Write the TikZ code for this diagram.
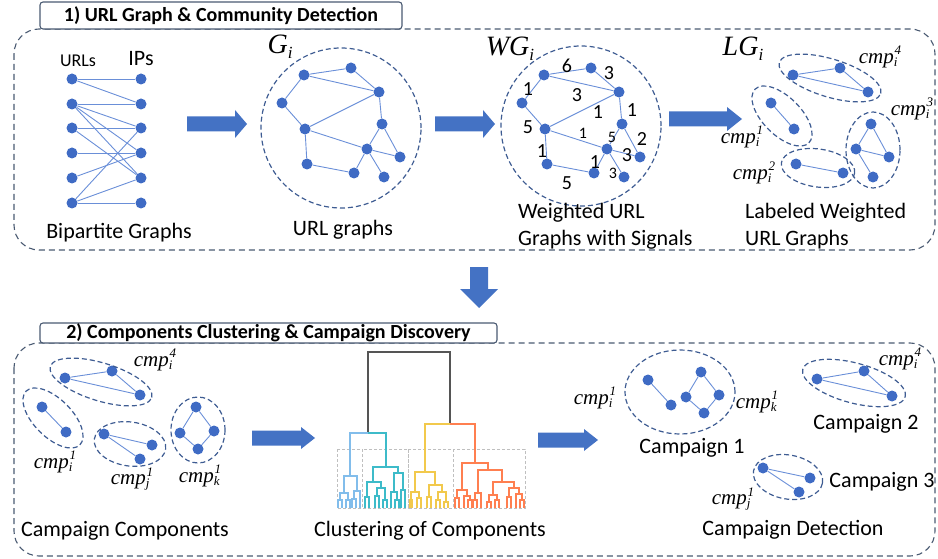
\documentclass[tikz,border=0pt]{standalone}
\usepackage{fontspec}
\setmainfont{Carlito}
\newfontfamily\tnr{Liberation Serif}
\usetikzlibrary{shapes.geometric}
\definecolor{nodeblue}{HTML}{3F6BC4}
\definecolor{edgeblue}{HTML}{6A8FD8}
\definecolor{ellblue}{HTML}{3E5C92}
\definecolor{framegray}{HTML}{4A5A72}
\definecolor{arrowblue}{HTML}{4472C4}
\definecolor{dlblue}{HTML}{82BDEB}
\definecolor{dlteal}{HTML}{3DBBC9}
\definecolor{dlyellow}{HTML}{F2C94C}
\definecolor{dlorange}{HTML}{FF7F50}
\definecolor{dlblack}{HTML}{555555}
\pgfdeclarelayer{bg}
\pgfsetlayers{bg,main}
\newcommand\fs[1]{\fontsize{#1}{#1}\selectfont}
\newcommand\cmpl[2]{{\tnr\itshape\fs{21}cmp\rlap{\raisebox{-0.35ex}{\fs{13}#1}}\raisebox{0.85ex}{\fs{13}\kern0.8pt #2}}}
\newcommand\glab[1]{{\tnr\itshape\fs{28}#1\raisebox{-0.4ex}{\fs{17}i}}}
\newcommand\dl[6]{\draw[#1] (#2,#5)--(#2,#4)--(#3,#4)--(#3,#6);}
% right block arrow: x1, x2, y, shaft half, head half, head length
\newcommand\rarrow[6]{\fill[arrowblue] (#1,#3-#4)--(#2-#6,#3-#4)--(#2-#6,#3-#5)--(#2,#3)--(#2-#6,#3+#5)--(#2-#6,#3+#4)--(#1,#3+#4)--cycle;}
\begin{document}
\begin{tikzpicture}[x=1pt,y=-1pt,
  vert/.style={circle,fill=nodeblue,inner sep=0pt,minimum size=11pt},
  edge/.style={draw=edgeblue,line width=0.9pt},
  ell/.style={ellipse,draw=ellblue,dash pattern=on 5pt off 3pt,line width=1.2pt,inner sep=0pt},
  circ/.style={circle,draw=ellblue,dash pattern=on 5pt off 3pt,line width=1.2pt,inner sep=0pt},
  frame/.style={draw=framegray,dash pattern=on 6pt off 4pt,line width=1.1pt,rounded corners=25pt},
  titlebox/.style={draw=framegray,fill=white,line width=1.1pt,rounded corners=3pt,inner sep=0pt,font=\fs{20}\bfseries},
  lbl/.style={inner sep=0pt,font=\fs{22}},
  wt/.style={inner sep=0pt,font=\fs{20}},
  wts/.style={inner sep=0pt,font=\fs{16}},
  lb/.style={draw=dlblue,line width=1.2pt},
  tl/.style={draw=dlteal,line width=1.2pt},
  yl/.style={draw=dlyellow,line width=1.2pt},
  or/.style={draw=dlorange,line width=1.2pt},
  dk/.style={draw=dlblack,line width=1.2pt},
  gbox/.style={draw=gray!50,dash pattern=on 3pt off 2pt,line width=1pt}]
\useasboundingbox (0,0) rectangle (938,559);

% ---------- frames ----------
\draw[frame] (14,29) rectangle (935,250);
\node[titlebox,minimum width=362pt,minimum height=27pt] (t1) at (221,15.5) {1) URL Graph \& Community Detection};
\draw[frame] (14,343) rectangle (935,556);
\node[titlebox,minimum width=457pt,minimum height=20pt] (t2) at (268.5,333) {2) Components Clustering \& Campaign Discovery};

% ---------- bipartite ----------
\node[lbl,font=\fs{18}] (urls) at (78,61) {URLs};
\node[lbl] (ips) at (141,59) {IPs};
\foreach \k/\y in {1/79,2/104,3/128,4/153,5/178,6/203}{
  \node[vert] (u\k) at (72,\y) {};
  \node[vert] (p\k) at (141,\y) {};}
\begin{pgfonlayer}{bg}
\foreach \s/\t in {1/1,1/2,2/2,2/3,2/4,3/3,3/5,4/4,5/4,6/3,6/5,6/6,2/5}
  \draw[edge] (u\s)--(p\t);
\end{pgfonlayer}
\node[lbl] (bip) at (119,233) {Bipartite Graphs};

% ---------- URL graph G ----------
\node[circ,minimum size=160pt] (gc) at (341,128) {};
\node[inner sep=0pt] (glab) at (280,47) {\glab{G}};
\foreach \n/\x/\y in {a/304/75,b/351/68,c/379/92,d/282/103,e/305/129,f/382/124,g/367/149,h/400/157,i/307/164,j/354/173,k/384/177}
  \node[vert] (G\n) at (\x,\y) {};
\begin{pgfonlayer}{bg}
\foreach \s/\t in {a/b,b/c,a/c,a/d,d/e,e/c,c/f,e/g,f/g,f/h,g/h,g/k,g/j,e/i,i/j}
  \draw[edge] (G\s)--(G\t);
\end{pgfonlayer}
\node[lbl] (urlg) at (343,230) {URL graphs};

% ---------- weighted graph WG ----------
\node[circ,minimum size=160pt] (wc) at (581,126) {};
\node[inner sep=0pt] (wlab) at (510,49) {\glab{WG}};
\foreach \n/\x/\y in {a/304/75,b/351/68,c/379/92,d/282/103,e/305/129,f/382/124,g/367/149,h/400/157,i/307/164,j/354/173,k/384/177}
  \node[vert] (W\n) at (\x+240,\y) {};
\begin{pgfonlayer}{bg}
\foreach \s/\t in {a/b,b/c,a/c,a/d,d/e,e/c,c/f,e/g,f/g,f/h,g/h,g/k,g/j,e/i,i/j}
  \draw[edge] (W\s)--(W\t);
\end{pgfonlayer}
\node[wt] (w1) at (567,66) {6};
\node[wt] (w2) at (609,73) {3};
\node[wt] (w3) at (577,95) {3};
\node[wt] (w4) at (528,89) {1};
\node[wt] (w5) at (528,127) {5};
\node[wt] (w6) at (598,112) {1};
\node[wt] (w7) at (632,110) {1};
\node[wts] (w8) at (583,133) {1};
\node[wts] (w9) at (612,137) {5};
\node[wt] (w10) at (642,139) {2};
\node[wt] (w11) at (627,155) {3};
\node[wts] (w12) at (613,173) {3};
\node[wt] (w13) at (595,162) {1};
\node[wt] (w14) at (542,151) {1};
\node[wt] (w15) at (567,183) {5};
\node[lbl,anchor=west] (wl1) at (518,213) {Weighted URL};
\node[lbl,anchor=west] (wl2) at (518,240) {Graphs with Signals};

% ---------- labeled graph LG ----------
\node[inner sep=0pt] (llab) at (743,49) {\glab{LG}};
\foreach \n/\x/\y in {a/304/75,b/351/68,c/379/92,d/282/103,e/305/129,f/382/124,g/367/149,h/400/157,i/307/164,j/354/173,k/384/177}
  \node[vert] (L\n) at (\x+489,\y) {};
\begin{pgfonlayer}{bg}
\foreach \s/\t in {a/b,b/c,a/c,d/e,i/j,f/g,f/h,g/h,g/k}
  \draw[edge] (L\s)--(L\t);
\end{pgfonlayer}
\node[ell,minimum width=106pt,minimum height=38pt,rotate=-17] (le4) at (830,78) {};
\node[ell,minimum width=76pt,minimum height=38pt,rotate=-45] (le1) at (782,116) {};
\node[ell,minimum width=74pt,minimum height=38pt,rotate=-8] (le2) at (818,168) {};
\node[ell,minimum width=54pt,minimum height=76pt] (le3) at (873,150) {};
\node[inner sep=0pt] (lc4) at (880,57) {\cmpl{i}{4}};
\node[inner sep=0pt] (lc3) at (912,109) {\cmpl{i}{3}};
\node[inner sep=0pt] (lc1) at (742,137) {\cmpl{i}{1}};
\node[inner sep=0pt] (lc2) at (754,173) {\cmpl{i}{2}};
\node[lbl,anchor=west] (ll1) at (745,213) {Labeled Weighted};
\node[lbl,anchor=west] (ll2) at (745,240) {URL Graphs};

% ---------- block arrows ----------
\rarrow{187}{247}{124}{7.5}{14}{12}
\rarrow{435}{495}{124}{7.5}{14}{12}
\rarrow{669}{742}{119}{7.5}{12}{15}
\rarrow{252}{315}{438}{7.5}{11}{14}
\rarrow{538}{598}{440}{7.5}{11}{14}
\fill[arrowblue] (470,267)--(488,267)--(488,289)--(498,289)--(479,308)--(460,289)--(470,289)--cycle;

% ---------- bottom left components ----------
\node[vert] (c4a) at (65,378) {};
\node[vert] (c4b) at (112,371) {};
\node[vert] (c4c) at (140,395) {};
\node[vert] (c1a) at (42,407) {};
\node[vert] (c1b) at (66,432) {};
\node[vert] (cja) at (104,434) {};
\node[vert] (cjb) at (152,445) {};
\node[vert] (cjc) at (140,459) {};
\node[vert] (cka) at (196,407) {};
\node[vert] (ckb) at (180,433) {};
\node[vert] (ckc) at (214,431) {};
\node[vert] (ckd) at (198,449) {};
\begin{pgfonlayer}{bg}
\draw[edge] (c4a)--(c4b)--(c4c)--(c4a);
\draw[edge] (c1a)--(c1b);
\draw[edge] (cjb)--(cja)--(cjc);
\draw[edge] (cka)--(ckb)--(ckd)--(ckc)--(cka);
\end{pgfonlayer}
\node[ell,minimum width=106pt,minimum height=38pt,rotate=-17] (be4) at (101,382) {};
\node[ell,minimum width=76pt,minimum height=38pt,rotate=-45] (be1) at (53,418) {};
\node[ell,minimum width=72pt,minimum height=44pt,rotate=-8] (bej) at (130,444) {};
\node[ell,minimum width=54pt,minimum height=66pt] (bek) at (198,430) {};
\node[inner sep=0pt] (bc4) at (155,360) {\cmpl{i}{4}};
\node[inner sep=0pt] (bc1) at (55,462) {\cmpl{i}{1}};
\node[inner sep=0pt] (bcj) at (132,479) {\cmpl{j}{1}};
\node[inner sep=0pt] (bck) at (200,476) {\cmpl{k}{1}};
\node[lbl] (cc) at (125,531) {Campaign Components};

% ---------- dendrogram ----------
\draw[gbox] (337,449) rectangle (362,508);
\draw[gbox] (362,449) rectangle (408,508);
\draw[gbox] (408,449) rectangle (453,508);
\draw[gbox] (453,449) rectangle (525,508);
\draw[dk] (368,433)--(368,352)--(450,352)--(450,424);
\draw[lb] (350,476)--(350,433)--(368,433);
\draw[tl] (368,433)--(386,433)--(386,467);
\draw[yl] (425,472)--(425,424)--(450,424);
\draw[or] (450,424)--(475,424)--(475,463);
\dl{lb}{344}{357}{476}{493}{491}
\dl{lb}{340}{348}{493}{500}{500}
\dl{lb}{338}{342}{500}{508}{508}
\dl{lb}{346}{350}{500}{508}{508}
\dl{lb}{354}{360}{491}{499}{508}
\dl{lb}{352}{356}{499}{508}{508}
\dl{tl}{373}{398}{467}{482}{473}
\dl{tl}{367}{381}{482}{497}{488}
\dl{tl}{365}{369}{497}{508}{508}
\dl{tl}{377}{385}{488}{496}{500}
\dl{tl}{375}{379}{496}{508}{508}
\dl{tl}{383}{387}{500}{508}{508}
\dl{tl}{394}{403}{473}{492}{490}
\dl{tl}{391}{397}{492}{508}{500}
\dl{tl}{395}{399}{500}{508}{508}
\dl{tl}{401}{405}{490}{508}{508}
\dl{yl}{415}{435}{472}{492}{485}
\dl{yl}{411}{419}{492}{500}{498}
\dl{yl}{410}{412}{500}{508}{508}
\dl{yl}{417}{421}{498}{508}{508}
\dl{yl}{429}{442}{485}{497}{492}
\dl{yl}{427}{431}{497}{508}{508}
\dl{yl}{438}{446}{492}{500}{502}
\dl{yl}{436}{440}{500}{508}{508}
\dl{yl}{444}{448}{502}{508}{508}
\dl{or}{462}{488}{463}{490}{470}
\dl{or}{457}{467}{490}{498}{496}
\dl{or}{455}{459}{498}{508}{508}
\dl{or}{464}{470}{496}{508}{500}
\dl{or}{468}{472}{500}{508}{508}
\dl{or}{478}{502}{470}{493}{482}
\dl{or}{475}{481}{493}{500}{508}
\dl{or}{473}{477}{500}{508}{508}
\dl{or}{493}{514}{482}{495}{488}
\dl{or}{489}{497}{495}{502}{500}
\dl{or}{487}{491}{502}{508}{508}
\dl{or}{495}{499}{500}{508}{508}
\dl{or}{509}{519}{488}{497}{494}
\dl{or}{507}{511}{497}{508}{508}
\dl{or}{516}{522}{494}{508}{500}
\dl{or}{520}{524}{500}{508}{508}
\node[lbl] (clu) at (430,531) {Clustering of Components};

% ---------- campaigns ----------
\node[vert] (k1a) at (648,380) {};
\node[vert] (k1b) at (671,405) {};
\node[vert] (k1c) at (701,372) {};
\node[vert] (k1d) at (686,397) {};
\node[vert] (k1e) at (719,395) {};
\node[vert] (k1f) at (704,413) {};
\node[vert] (k2a) at (817,379) {};
\node[vert] (k2b) at (864,371) {};
\node[vert] (k2c) at (892,396) {};
\node[vert] (k3a) at (763,468) {};
\node[vert] (k3b) at (810,478) {};
\node[vert] (k3c) at (799,492) {};
\begin{pgfonlayer}{bg}
\draw[edge] (k1a)--(k1b);
\draw[edge] (k1c)--(k1d)--(k1f)--(k1e)--(k1c);
\draw[edge] (k2a)--(k2b)--(k2c)--(k2a);
\draw[edge] (k3b)--(k3a)--(k3c);
\end{pgfonlayer}
\node[ell,minimum width=110pt,minimum height=84pt] (ke1) at (680,392) {};
\node[ell,minimum width=106pt,minimum height=40pt,rotate=-15] (ke2) at (854,383) {};
\node[ell,minimum width=70pt,minimum height=44pt,rotate=-10] (ke3) at (788,477) {};
\node[inner sep=0pt] (kc1) at (595,398) {\cmpl{i}{1}};
\node[inner sep=0pt] (kck) at (757,402) {\cmpl{k}{1}};
\node[inner sep=0pt] (kc4) at (900,359) {\cmpl{i}{4}};
\node[inner sep=0pt] (kcj) at (733,499) {\cmpl{j}{1}};
\node[lbl] (cp1) at (692,448) {Campaign 1};
\node[lbl] (cp2) at (866,424) {Campaign 2};
\node[lbl] (cp3) at (882,482) {Campaign 3};
\node[lbl] (cdet) at (793,530) {Campaign Detection};
\end{tikzpicture}
\end{document}
